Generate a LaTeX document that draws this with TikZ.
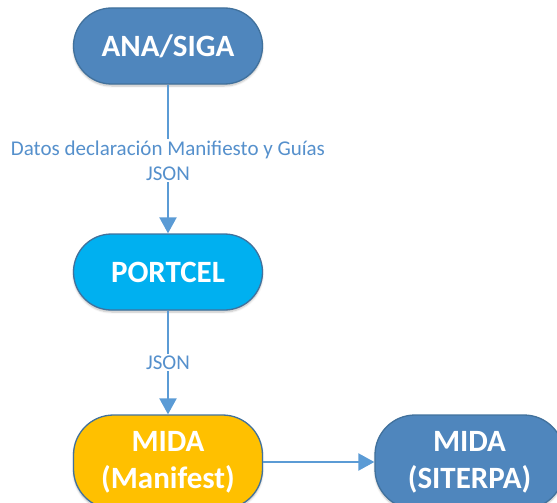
\documentclass[tikz,border=0pt]{standalone}
\usepackage{fontspec}
\setmainfont{Carlito}
\usetikzlibrary{arrows.meta,shadows.blur}
\definecolor{darkblue}{HTML}{4F86BD}
\definecolor{edgeblue}{HTML}{41719C}
\definecolor{cyanfill}{HTML}{00B0F0}
\definecolor{gold}{HTML}{FFC000}
\definecolor{linkblue}{HTML}{5B9BD5}
\definecolor{labelblue}{HTML}{5590CC}
\tikzset{
  term/.style={rectangle, rounded corners=38pt, minimum width=189pt, minimum height=76pt,
    draw=edgeblue, line width=1.3pt, text=white, align=center,
    font=\fontsize{31}{37}\selectfont\bfseries,
    blur shadow={shadow blur steps=6, shadow xshift=0pt, shadow yshift=-2pt, shadow opacity=25}},
  link/.style={draw=linkblue, line width=2.2pt, -{Triangle[length=16pt,width=17pt]}},
  lbl/.style={fill=white, text=labelblue, align=center, inner sep=2pt,
    font=\fontsize{21}{25}\selectfont},
}
\begin{document}
\begin{tikzpicture}[x=1pt,y=-1pt]
\path[use as bounding box, clip] (0,0) rectangle (557,503);
\node[term, fill=darkblue] (ana) at (168,46) {ANA/SIGA};
\node[term, fill=cyanfill] (portcel) at (168,272) {PORTCEL};
\node[term, fill=gold, minimum height=94pt, rounded corners=40pt] (manifest) at (168,462) {MIDA\\(Manifest)};
\node[term, fill=darkblue, minimum height=94pt, rounded corners=40pt] (siterpa) at (469.5,462) {MIDA\\(SITERPA)};
\draw[link] (ana) -- node[lbl, yshift=-1.5pt] (l1) {Datos declaración Manifiesto y Guías\\JSON} (portcel);
\draw[link] (portcel) -- node[lbl] (l2) {JSON} (manifest);
\draw[link] (manifest) -- (siterpa);
\end{tikzpicture}
\end{document}
